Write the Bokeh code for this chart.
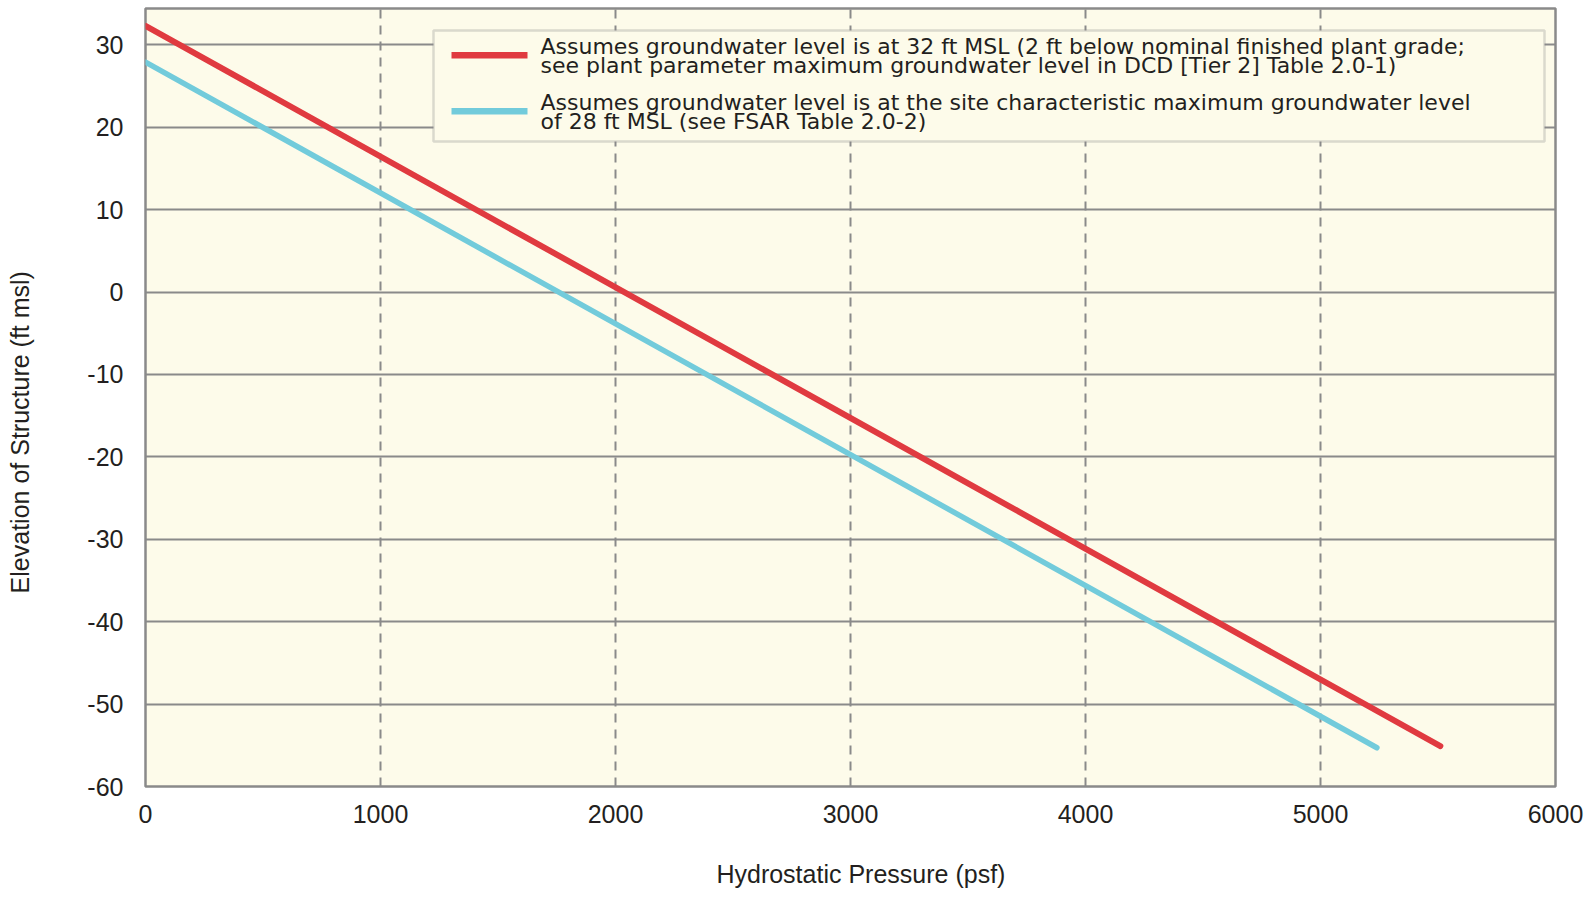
from bokeh.plotting import figure
from bokeh.models import (Range1d, FixedTicker, Label, BoxAnnotation, PrintfTickFormatter)
from bokeh.embed import file_html
from bokeh.resources import INLINE

# ---- data ----
pressure_32 = [0, 5510]          # psf
elev_32 = [32.3, -55.1]          # ft msl
pressure_28 = [0, 5240]
elev_28 = [27.9, -55.3]

x_ticks = [0, 1000, 2000, 3000, 4000, 5000, 6000]
y_ticks = [-60, -50, -40, -30, -20, -10, 0, 10, 20, 30]

legend_32 = ["Assumes groundwater level is at 32 ft MSL (2 ft below nominal finished plant grade;",
             "see plant parameter maximum groundwater level in DCD [Tier 2] Table 2.0-1)"]
legend_28 = ["Assumes groundwater level is at the site characteristic maximum groundwater level",
             "of 28 ft MSL (see FSAR Table 2.0-2)"]
x_title = "Hydrostatic Pressure (psf)"
y_title = "Elevation of Structure (ft msl)"

FONT = "Liberation Sans"
LEGEND_FONT = "DejaVu Sans"
TXT = "#231f20"
GRID = "#8a8a8a"
BG = "#fdfbea"
RED = "#e03a40"
CYAN = "#72cbdb"
NBSP = "\u00a0"

p = figure(output_backend="svg", toolbar_location=None,
           x_range=Range1d(0, 6000), y_range=Range1d(-60, 34.4),
           frame_width=1410, frame_height=778,
           min_border_left=145, min_border_right=30, min_border_top=8, min_border_bottom=109)

p.background_fill_color = BG
p.border_fill_color = "white"
p.outline_line_color = GRID
p.outline_line_width = 2.5

# grids
p.xgrid.ticker = FixedTicker(ticks=x_ticks)
p.ygrid.ticker = FixedTicker(ticks=y_ticks)
p.xgrid.grid_line_color = GRID
p.xgrid.grid_line_width = 2
p.xgrid.grid_line_dash = "9 7"
p.ygrid.grid_line_color = GRID
p.ygrid.grid_line_width = 2

for ax in (p.xaxis[0], p.yaxis[0]):
    ax.axis_line_color = None
    ax.major_tick_line_color = None
    ax.minor_tick_line_color = None
    ax.major_tick_out = 0
    ax.major_tick_in = 0
    ax.major_label_text_font = FONT
    ax.major_label_text_font_size = "25px"
    ax.major_label_text_color = TXT
    ax.formatter = PrintfTickFormatter(format="%d")
    ax.axis_label_text_font = FONT
    ax.axis_label_text_font_size = "25px"
    ax.axis_label_text_font_style = "normal"
    ax.axis_label_text_color = TXT

p.xaxis[0].ticker = FixedTicker(ticks=x_ticks)
p.yaxis[0].ticker = FixedTicker(ticks=y_ticks)
p.xaxis[0].major_label_standoff = 18
p.yaxis[0].major_label_standoff = 22
# no-break spaces nudge the centred titles to where the reference has them
p.xaxis[0].axis_label = NBSP * 3 + x_title
p.xaxis[0].axis_label_standoff = 34
p.yaxis[0].axis_label = y_title + NBSP * 10
p.yaxis[0].axis_label_standoff = 50

r1 = p.line(pressure_32, elev_32, line_color=RED, line_width=6, line_cap="round")
r2 = p.line(pressure_28, elev_28, line_color=CYAN, line_width=5.5, line_cap="round")

# ---- legend (drawn by hand: tight two-line labels) ----
p.add_layout(BoxAnnotation(left=288, right=1399, top=756, bottom=645,
                           left_units="screen", right_units="screen",
                           top_units="screen", bottom_units="screen",
                           fill_color=BG, fill_alpha=1.0,
                           line_color=GRID, line_width=2.5))
for color, yc in ((RED, 731.3), (CYAN, 675.3)):
    p.add_layout(BoxAnnotation(left=306, right=382, top=yc + 3.3, bottom=yc - 3.3,
                               left_units="screen", right_units="screen",
                               top_units="screen", bottom_units="screen",
                               fill_color=color, fill_alpha=1.0, line_color=None))
for lines, y0 in ((legend_32, 740), (legend_28, 684)):
    for i, t in enumerate(lines):
        p.add_layout(Label(x=395, y=y0 - 19 * i, x_units="screen", y_units="screen",
                           text=t, text_align="left", text_baseline="alphabetic",
                           text_font=LEGEND_FONT, text_font_size="22px", text_color=TXT))

open("out.html", "w").write(file_html(p, INLINE))
